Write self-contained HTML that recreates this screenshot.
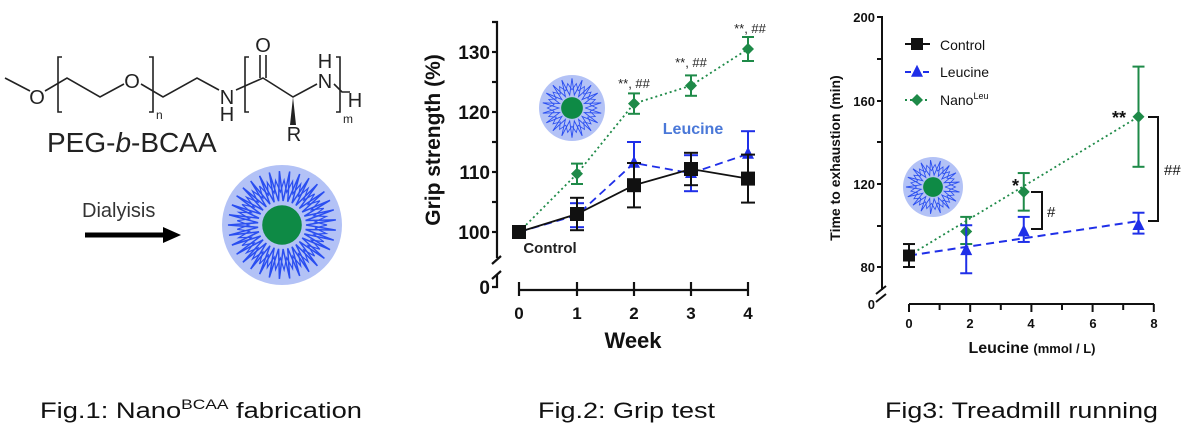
<!DOCTYPE html>
<html><head><meta charset="utf-8"><style>
html,body{margin:0;padding:0;background:#fff;}
svg{display:block;font-family:"Liberation Sans",Arial,sans-serif;}
</style></head><body>
<svg id="s" width="1200" height="444" viewBox="0 0 1200 444" xmlns="http://www.w3.org/2000/svg">
<!-- Fig1 structure -->
<g stroke="#222" stroke-width="1.6" fill="none">
<polyline points="5,78 30,91"/>
<polyline points="45,91 67,78 100,97 124,84"/>
<polyline points="141,84 163,97 197,78 219,90"/>
<polyline points="236,90 263,78 293,97 317,84"/>
<line x1="260" y1="55" x2="260" y2="78"/><line x1="266" y1="55" x2="266" y2="78"/>
<polyline points="334,84 342,92 350,92"/>
<polyline points="62,57 58,57 58,112 62,112"/>
<polyline points="149,57 153,57 153,112 149,112"/>
<polyline points="249,57 245,57 245,112 249,112"/>
<polyline points="336,57 340,57 340,112 336,112"/>
</g>
<polygon points="293,97 290,125 296,125" fill="#222"/>
<g font-size="20" fill="#222">
<text x="37" y="104" text-anchor="middle">O</text>
<text x="132" y="88" text-anchor="middle">O</text>
<text x="227" y="104" text-anchor="middle">N</text>
<text x="227" y="121" text-anchor="middle">H</text>
<text x="263" y="52" text-anchor="middle">O</text>
<text x="294" y="141" text-anchor="middle">R</text>
<text x="325" y="88" text-anchor="middle">N</text>
<text x="325" y="68" text-anchor="middle">H</text>
<text x="355" y="107" text-anchor="middle">H</text>
<text x="156" y="119" font-size="12">n</text>
<text x="343" y="123" font-size="12">m</text>
</g>
<text x="47" y="152" font-size="28" fill="#222">PEG-<tspan font-style="italic">b</tspan>-BCAA</text>
<text x="82" y="217" font-size="20" fill="#333">Dialyisis</text>
<line x1="85" y1="235" x2="165" y2="235" stroke="#000" stroke-width="5"/>
<polygon points="163,227 181,235 163,243" fill="#000"/>
<g id="mic"></g>

<!-- Fig2 -->
<g stroke="#111" stroke-width="2.2" fill="none">
<polyline points="492,22 497,22 497,258"/>
<line x1="492" y1="52" x2="497" y2="52"/><line x1="492" y1="112" x2="497" y2="112"/>
<line x1="492" y1="172" x2="497" y2="172"/><line x1="492" y1="232" x2="497" y2="232"/>
<line x1="492" y1="82" x2="497" y2="82"/><line x1="492" y1="142" x2="497" y2="142"/><line x1="492" y1="202" x2="497" y2="202"/>
<path d="M492,264 L501,256"/><path d="M492,279 L501,271"/>
<polyline points="497,275 497,287 492,287"/>
<line x1="519" y1="290" x2="748" y2="290"/>
<line x1="519" y1="282" x2="519" y2="296"/><line x1="577" y1="282" x2="577" y2="296"/><line x1="634" y1="282" x2="634" y2="296"/><line x1="691" y1="282" x2="691" y2="296"/><line x1="748" y1="282" x2="748" y2="296"/>
</g>
<g font-size="19" font-weight="bold" fill="#111" text-anchor="end">
<text x="490" y="59">130</text><text x="490" y="119">120</text><text x="490" y="179">110</text><text x="490" y="239">100</text><text x="490" y="294">0</text>
</g>
<g font-size="17" font-weight="bold" fill="#111" text-anchor="middle">
<text x="519" y="319">0</text><text x="577" y="319">1</text><text x="634" y="319">2</text><text x="691" y="319">3</text><text x="748" y="319">4</text>
</g>
<text x="633" y="348" font-size="22" font-weight="bold" text-anchor="middle" fill="#111">Week</text>
<text transform="translate(440,140) rotate(-90)" font-size="21" font-weight="bold" text-anchor="middle" fill="#111">Grip strength (%)</text>
<g id="f2"></g>
<text x="693" y="134" font-size="16" font-weight="bold" fill="#4a78d8" text-anchor="middle">Leucine</text>
<text x="550" y="253" font-size="15" font-weight="bold" fill="#222" text-anchor="middle">Control</text>
<g font-size="13" fill="#222" text-anchor="middle">
<text x="634" y="88">**, ##</text><text x="691" y="67">**, ##</text><text x="750" y="33">**, ##</text>
</g>

<!-- Fig3 -->
<g stroke="#111" stroke-width="2" fill="none">
<polyline points="877,17 882,17 882,290"/>
<line x1="877" y1="101" x2="882" y2="101"/><line x1="877" y1="184" x2="882" y2="184"/><line x1="877" y1="267" x2="882" y2="267"/>
<line x1="877" y1="59" x2="882" y2="59"/><line x1="877" y1="142" x2="882" y2="142"/><line x1="877" y1="226" x2="882" y2="226"/>
<path d="M876,294 L886,286"/><path d="M876,302 L886,294"/>
<line x1="909" y1="304" x2="1154" y2="304"/>
</g>
<g id="xt3" stroke="#111" stroke-width="2"></g>
<g font-size="13" font-weight="bold" fill="#111" text-anchor="end">
<text x="875" y="22">200</text><text x="875" y="106">160</text><text x="875" y="189">120</text><text x="875" y="272">80</text><text x="875" y="309">0</text>
</g>
<g font-size="13" font-weight="bold" fill="#111" text-anchor="middle">
<text x="909" y="328">0</text><text x="970" y="328">2</text><text x="1031" y="328">4</text><text x="1093" y="328">6</text><text x="1154" y="328">8</text>
</g>
<text x="1032" y="353" font-size="16" font-weight="bold" text-anchor="middle" fill="#111">Leucine <tspan font-size="13">(mmol / L)</tspan></text>
<text transform="translate(840,158) rotate(-90)" font-size="14" font-weight="bold" text-anchor="middle" fill="#111">Time to exhaustion (min)</text>
<g id="f3"></g>
<g font-size="14" fill="#111">
<text x="940" y="50">Control</text><text x="940" y="77">Leucine</text><text x="940" y="105">Nano<tspan font-size="9" dy="-6">Leu</tspan></text>
</g>
<g stroke="#111" stroke-width="2" fill="none">
<polyline points="1031,192 1042,192 1042,229 1031,229"/>
<polyline points="1148,117 1158,117 1158,221 1148,221"/>
</g>
<g font-size="15" fill="#111">
<text x="1047" y="217">#</text><text x="1164" y="175">##</text>
<text x="1012" y="192" font-weight="bold" font-size="18">*</text><text x="1112" y="124" font-weight="bold" font-size="18">**</text>
</g>

<!-- captions -->
<g font-size="22" fill="#111">
<text x="40" y="418" textLength="322" lengthAdjust="spacingAndGlyphs">Fig.1: Nano<tspan font-size="14" dy="-9">BCAA</tspan><tspan dy="9"> fabrication</tspan></text>
<text x="538" y="418" textLength="177" lengthAdjust="spacingAndGlyphs">Fig.2: Grip test</text>
<text x="885" y="418" textLength="273" lengthAdjust="spacingAndGlyphs">Fig3: Treadmill running</text>
</g>
</svg>
<script>
var NS="http://www.w3.org/2000/svg";
function el(p,t,a){var e=document.createElementNS(NS,t);for(var k in a)e.setAttribute(k,a[k]);p.appendChild(e);return e;}
function micelle(p,cx,cy,R){
 el(p,"circle",{cx:cx,cy:cy,r:R,fill:"#b3c2f6"});
 var n=Math.round(R*0.55),pts=[];
 for(var i=0;i<=n*2;i++){var a=i/(n*2)*Math.PI*2;var r=(i%2?0.9:0.4)*R;pts.push((cx+r*Math.cos(a)).toFixed(1)+","+(cy+r*Math.sin(a)).toFixed(1));}
 el(p,"polyline",{points:pts.join(" "),fill:"none",stroke:"#2a4ef0","stroke-width":R>40?1.5:0.9});
 pts=[];
 for(var i=0;i<=n*2;i++){var a=(i+1)/(n*2)*Math.PI*2;var r=(i%2?0.75:0.55)*R;pts.push((cx+r*Math.cos(a)).toFixed(1)+","+(cy+r*Math.sin(a)).toFixed(1));}
 el(p,"polyline",{points:pts.join(" "),fill:"none",stroke:"#2a4ef0","stroke-width":R>40?1.2:0.8});
 el(p,"circle",{cx:cx,cy:cy,r:R*0.33,fill:"#0e8a45"});
}
micelle(document.getElementById("mic"),282,225,60);
var f2=document.getElementById("f2");
micelle(f2,572,108,33);
function ebar(p,x,lo,hi,c,w){el(p,"line",{x1:x,y1:lo,x2:x,y2:hi,stroke:c,"stroke-width":2});el(p,"line",{x1:x-w,y1:lo,x2:x+w,y2:lo,stroke:c,"stroke-width":2});el(p,"line",{x1:x-w,y1:hi,x2:x+w,y2:hi,stroke:c,"stroke-width":2});}
function Y2(v){return 232-(v-100)*6;}
var X2=[519,577,634,691,748];
var ctl=[[100,0],[103,2.7],[107.8,3.7],[110.5,2.7],[108.9,4]];
var leu=[[100,0],[102.8,2],[111.5,3.5],[109.8,3],[113,3.8]];
var nan=[[100,0],[109.7,1.7],[121.4,1.7],[124.4,1.7],[130.5,2]];
function series(p,xs,d,Y,c,dash,mk,ms,w){
 el(p,"polyline",{points:d.map(function(q,i){return xs[i]+","+Y(q[0]);}).join(" "),fill:"none",stroke:c,"stroke-width":1.8,"stroke-dasharray":dash});
 d.forEach(function(q,i){if(q[1]>0||q[2])ebar(p,xs[i],Y(q[0]-q[1]),Y(q[0]+(q[2]||q[1])),c,w);});
 d.forEach(function(q,i){marker(p,xs[i],Y(q[0]),mk,c,ms);});
}
function marker(p,x,y,mk,c,s){
 if(mk=="sq")el(p,"rect",{x:x-s,y:y-s,width:2*s,height:2*s,fill:c});
 else if(mk=="tri")el(p,"polygon",{points:x+","+(y-s*1.2)+" "+(x-s)+","+(y+s*0.8)+" "+(x+s)+","+(y+s*0.8),fill:c});
 else el(p,"polygon",{points:x+","+(y-s)+" "+(x+s)+","+y+" "+x+","+(y+s)+" "+(x-s)+","+y,fill:c});
}
series(f2,X2,nan,Y2,"#1e8a48","2,3","dia",6,6);
series(f2,X2,leu,Y2,"#1f2fe8","8,5","tri",6,7);
series(f2,X2,ctl,Y2,"#111","","sq",7,7);
var xt=document.getElementById("xt3");
for(var i=0;i<=8;i++){var x=909+i*30.6;el(xt,"line",{x1:x,y1:304,x2:x,y2:i%2?310:312});}
var f3=document.getElementById("f3");
micelle(f3,933,187,30);
function Y3(v){return 267-(v-80)*2.0875;}
function X3(v){return 909+v*30.6;}
el(f3,"line",{x1:X3(0),y1:Y3(85.5),x2:X3(7.5),y2:Y3(152),stroke:"#1e8a48","stroke-width":1.8,"stroke-dasharray":"2,3"});
el(f3,"line",{x1:X3(0),y1:Y3(85.5),x2:X3(7.5),y2:Y3(102),stroke:"#1f2fe8","stroke-width":2,"stroke-dasharray":"8,5"});
[[1.87,97,91,104],[3.75,116,107,125],[7.5,152,128,176]].forEach(function(q){ebar(f3,X3(q[0]),Y3(q[2]),Y3(q[3]),"#1e8a48",6);marker(f3,X3(q[0]),Y3(q[1]),"dia","#1e8a48",6);});
[[1.87,88,77,100],[3.75,97,92,104],[7.5,100,96,106]].forEach(function(q){ebar(f3,X3(q[0]),Y3(q[2]),Y3(q[3]),"#1f2fe8",6);marker(f3,X3(q[0]),Y3(q[1]),"tri","#1f2fe8",6);});
ebar(f3,X3(0),Y3(80),Y3(91),"#111",6);marker(f3,X3(0),Y3(85.5),"sq","#111",6);
el(f3,"line",{x1:905,y1:44,x2:930,y2:44,stroke:"#111","stroke-width":2});marker(f3,917,44,"sq","#111",6);
el(f3,"line",{x1:905,y1:72,x2:930,y2:72,stroke:"#1f2fe8","stroke-width":2,"stroke-dasharray":"6,3"});marker(f3,917,72,"tri","#1f2fe8",6);
el(f3,"line",{x1:905,y1:100,x2:930,y2:100,stroke:"#1e8a48","stroke-width":2,"stroke-dasharray":"2,3"});marker(f3,917,100,"dia","#1e8a48",6);
</script>
</body></html>
